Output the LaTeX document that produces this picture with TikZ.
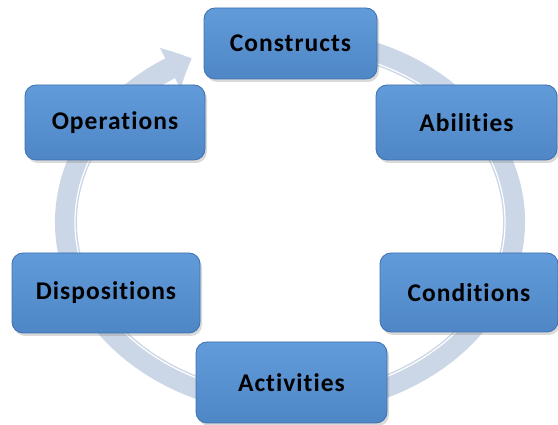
\documentclass[tikz,border=0pt]{standalone}
\usepackage{fontspec}
\setmainfont{Carlito}[Ligatures=NoCommon, LetterSpace=4]
\usetikzlibrary{arrows.meta,shadows,bending}
\definecolor{boxtop}{RGB}{98,155,218}
\definecolor{boxbottom}{RGB}{78,134,198}
\definecolor{boxedge}{RGB}{62,112,176}
\definecolor{ringgray}{RGB}{203,214,230}

\tikzset{
  stage/.style={rectangle, rounded corners=11pt, top color=boxtop, bottom color=boxbottom,
    draw=boxedge, line width=0.8pt, minimum width=180pt, minimum height=76pt,
    font=\fontsize{25.5}{28}\selectfont\bfseries,
    drop shadow={shadow xshift=2pt, shadow yshift=-3pt, opacity=0.3}},
  ring/.style={ringgray, line width=22pt}
}

\begin{document}
\begin{tikzpicture}[x=1pt,y=1pt]
    \useasboundingbox (0,0) rectangle (558,425);
    % Cycle arrow behind the boxes
    \draw[ring, -{Triangle[length=24pt,width=44pt,bend]}] (290,203) ++(80:224 and 182)
        arc[start angle=80, end angle=-244, x radius=224, y radius=182];
    \draw[white, line width=1.2pt] (290,203) ++(80:215 and 173)
        arc[start angle=80, end angle=-232, x radius=215, y radius=173];
    % Stages
    \node[stage, minimum width=173pt, minimum height=71pt] (constructs) at (290.5,381.5) {Constructs};
    \node[stage, minimum width=181pt, minimum height=75pt] (abilities) at (466.5,302.5) {Abilities};
    \node[stage, minimum width=178pt, minimum height=79pt] (conditions) at (469,132.5) {Conditions};
    \node[stage, minimum width=191pt, minimum height=81pt] (activities) at (291.5,42.5) {Activities};
    \node[stage, minimum width=188pt, minimum height=80pt] (dispositions) at (106,132) {Dispositions};
    \node[stage, minimum width=180pt, minimum height=75pt] (operations) at (115,302.5) {Operations};
\end{tikzpicture}
\end{document}
